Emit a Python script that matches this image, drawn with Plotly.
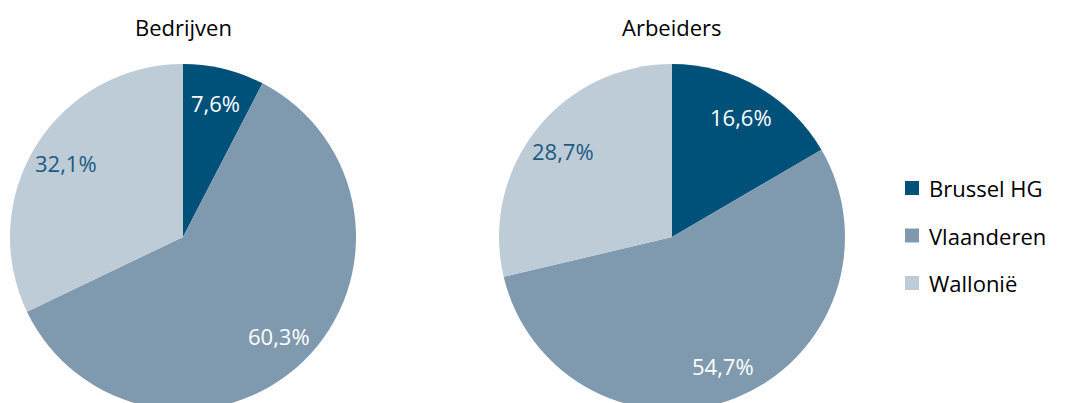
import numpy as np
import plotly.graph_objects as go

regions = ["Brussel HG", "Vlaanderen", "Wallonië"]
titles = ["Bedrijven", "Arbeiders"]
bedrijven = [7.6, 60.3, 32.1]
arbeiders = [16.6, 54.7, 28.7]

colors = ["#00517A", "#7F9AAF", "#BECCD8"]
label_colors = ["#FFFFFF", "#FFFFFF", "#1D5A80"]
FONT = "Open Sans"
FS = 22

W, H = 1081, 420
R = 173  # pie radius in px
centers = [(183, 237), (672, 237)]

fig = go.Figure()

for (cx, cy), title, vals in zip(centers, titles, [bedrijven, arbeiders]):
    dom_x = [(cx - R) / W, (cx + R) / W]
    dom_y = [1 - (cy + R) / H, 1 - (cy - R) / H]
    fig.add_trace(go.Pie(
        labels=regions, values=vals, sort=False, direction="clockwise",
        rotation=0, marker=dict(colors=colors, line=dict(width=0)),
        textinfo="none", hoverinfo="label+percent",
        domain=dict(x=dom_x, y=dom_y), showlegend=False,
    ))
    # title above pie
    fig.add_annotation(x=cx / W, y=1 - 27 / H, xref="paper", yref="paper",
                       xanchor="center", yanchor="middle",
                       text=title, showarrow=False,
                       font=dict(family=FONT, size=FS, color="#000000"))
    # slice labels along each bisector
    cum = np.cumsum([0] + vals) / sum(vals)
    for i, v in enumerate(vals):
        a = 2 * np.pi * (cum[i] + cum[i + 1]) / 2
        rr = 0.8 * R
        px = cx + rr * np.sin(a)
        py = cy - rr * np.cos(a)
        fig.add_annotation(x=px / W, y=1 - py / H, xref="paper", yref="paper",
                           xanchor="center", yanchor="middle",
                           text=f"{v:.1f}%".replace(".", ","), showarrow=False,
                           font=dict(family=FONT, size=FS, color=label_colors[i]))

# legend drawn by hand
for i, (name, col) in enumerate(zip(regions, colors)):
    ly = 188 + i * 47.5
    fig.add_shape(type="rect", xref="paper", yref="paper",
                  x0=905 / W, x1=919 / W, y0=1 - (ly + 7) / H, y1=1 - (ly - 7) / H,
                  fillcolor=col, line=dict(width=0))
    fig.add_annotation(x=927 / W, y=1 - ly / H, xref="paper", yref="paper",
                       text=name, showarrow=False, xanchor="left", yanchor="middle",
                       font=dict(family=FONT, size=FS, color="#000000"))

fig.update_layout(
    width=W, height=H,
    margin=dict(l=0, r=0, t=0, b=0),
    paper_bgcolor="white", plot_bgcolor="white",
    font=dict(family=FONT),
)

fig.write_html("out.html", config={"displayModeBar": False}, post_script=(
    "document.documentElement.style.overflow='hidden';"
    "document.body.style.overflow='hidden';"
    "document.body.style.margin='0';"
))
